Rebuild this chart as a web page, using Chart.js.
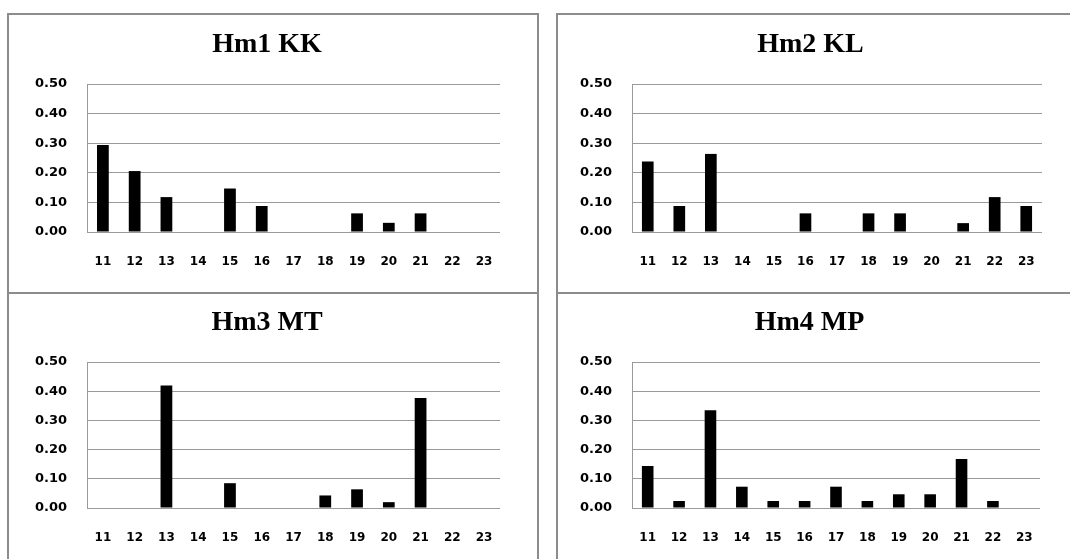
<!DOCTYPE html>
<html>
<head>
<meta charset="utf-8">
<script src="https://cdn.jsdelivr.net/npm/chart.js@4"></script>
<style>
  body { margin: 0; background: #fff; width: 1070px; height: 559px; overflow: hidden; position: relative; }
  .panel { position: absolute; border: 2px solid #8c8c8c; box-sizing: border-box; }
  .box { position: absolute; }
</style>
</head>
<body>
<div class="panel" style="left:7px;top:13px;width:532px;height:281px;"></div>
<div class="panel" style="left:556px;top:13px;width:530px;height:281px;"></div>
<div class="panel" style="left:7px;top:292px;width:532px;height:280px;"></div>
<div class="panel" style="left:556px;top:292px;width:530px;height:280px;"></div>

<div class="box" style="left:34px;top:20px;width:466px;height:260px;"><canvas id="c1"></canvas></div>
<div class="box" style="left:579px;top:20px;width:463px;height:260px;"><canvas id="c2"></canvas></div>
<div class="box" style="left:34px;top:298px;width:466px;height:258px;"><canvas id="c3"></canvas></div>
<div class="box" style="left:579px;top:298px;width:461px;height:258px;"><canvas id="c4"></canvas></div>

<script>
const categories = ['11', '12', '13', '14', '15', '16', '17', '18', '19', '20', '21', '22', '23'];

const hm1KK = [0.294, 0.206, 0.118, 0, 0.147, 0.088, 0, 0, 0.063, 0.031, 0.063, 0, 0];
const hm2KL = [0.238, 0.088, 0.264, 0, 0, 0.063, 0, 0.063, 0.063, 0, 0.030, 0.118, 0.088];
const hm3MT = [0, 0, 0.420, 0, 0.085, 0, 0, 0.043, 0.064, 0.020, 0.377, 0, 0];
const hm4MP = [0.144, 0.024, 0.335, 0.073, 0.024, 0.024, 0.073, 0.024, 0.047, 0.047, 0.168, 0.024, 0];

const titles = ['Hm1 KK', 'Hm2 KL', 'Hm3 MT', 'Hm4 MP'];
const yMax = 0.5;
const yStep = 0.1;

const gridGray = '#9a9a9a';

function makeChart(id, title, values) {
  const ctx = document.getElementById(id).getContext('2d');
  return new Chart(ctx, {
    type: 'bar',
    data: {
      labels: categories,
      datasets: [{
        data: values,
        backgroundColor: '#000',
        borderWidth: 0,
        barPercentage: 0.37,
        categoryPercentage: 1
      }]
    },
    options: {
      responsive: true,
      maintainAspectRatio: false,
      animation: false,
      layout: { padding: 0 },
      plugins: {
        legend: { display: false },
        tooltip: { enabled: false },
        title: {
          display: true,
          text: title,
          color: '#000',
          font: { family: 'Liberation Serif', size: 28, weight: 'bold', lineHeight: 1.2 },
          padding: { top: 7.5, bottom: 23 }
        }
      },
      scales: {
        x: {
          grid: { display: true, drawOnChartArea: false, drawTicks: false },
          border: { display: true, color: gridGray, width: 1 },
          ticks: {
            color: '#000',
            padding: 23,
            maxRotation: 0,
            autoSkip: false,
            font: { family: 'DejaVu Sans', size: 12, weight: 'bold' }
          },
          afterFit: (scale) => {
            scale.height = 48;
            scale.paddingLeft = 0;
            scale.paddingRight = 0;
          }
        },
        y: {
          min: 0,
          max: yMax,
          grid: { color: gridGray, drawTicks: false },
          border: { display: true, color: gridGray, width: 1 },
          ticks: {
            stepSize: yStep,
            color: '#000',
            padding: 20,
            font: { family: 'DejaVu Sans', size: 13, weight: 'bold' },
            callback: (v) => Number(v).toFixed(2)
          },
          afterFit: (scale) => { scale.width = 53; }
        }
      }
    }
  });
}

makeChart('c1', titles[0], hm1KK);
makeChart('c2', titles[1], hm2KL);
makeChart('c3', titles[2], hm3MT);
makeChart('c4', titles[3], hm4MP);
</script>
</body>
</html>
